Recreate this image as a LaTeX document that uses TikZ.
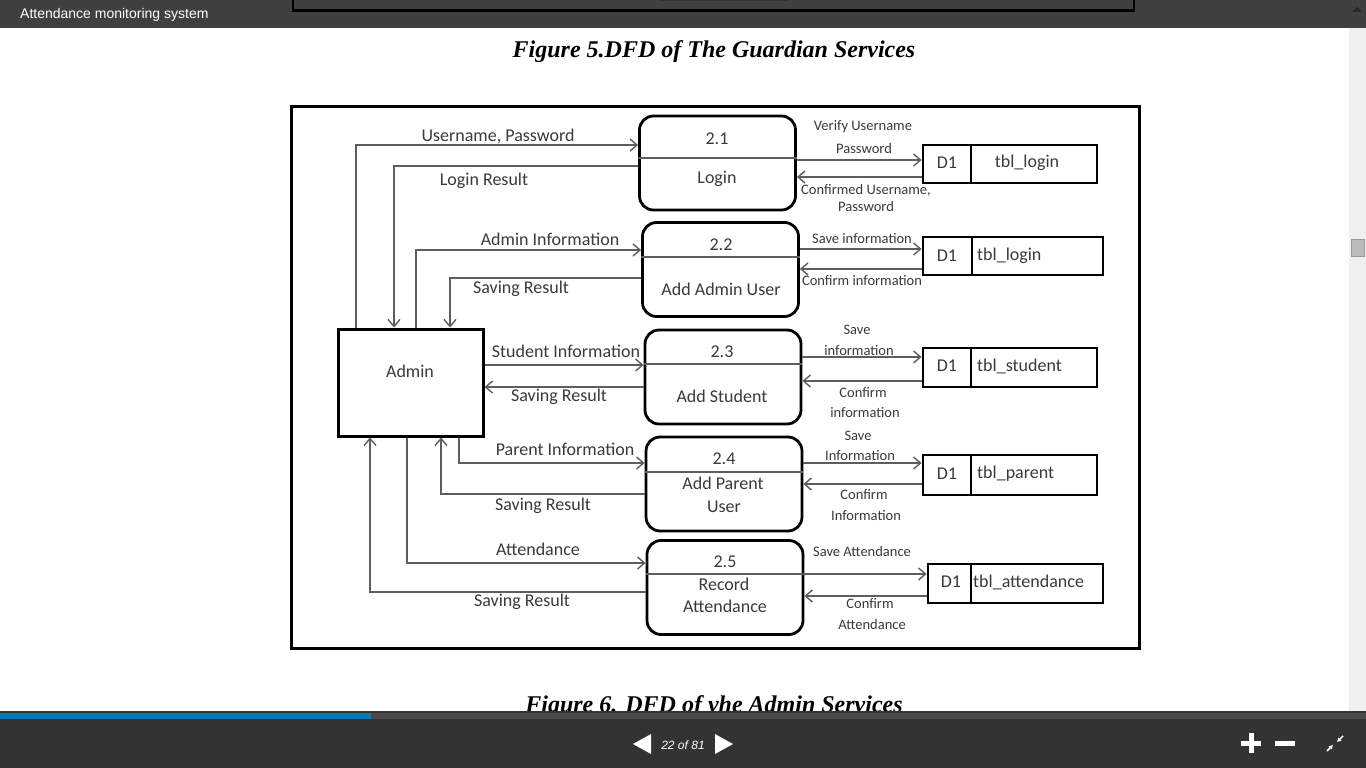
\documentclass[tikz,border=0pt]{standalone}
\usepackage{fontspec}
\setmainfont{Carlito}
\newfontfamily\titlefont{Liberation Serif}
\newfontfamily\uifont{Liberation Sans}
\usetikzlibrary{arrows.meta}
\definecolor{topbar}{HTML}{404040}
\definecolor{botbar}{HTML}{333333}
\definecolor{track}{HTML}{4B4B4B}
\definecolor{progress}{HTML}{0A78B8}
\definecolor{scrollbg}{HTML}{F0F0F0}
\definecolor{thumb}{HTML}{BBBBBB}
\definecolor{txt}{HTML}{3A3A3A}
\definecolor{flowgrey}{HTML}{5E5E5E}
\begin{document}
\begin{tikzpicture}[x=1pt,y=-1pt,
  lab/.style={font=\fontsize{18}{20}\selectfont, text=txt, inner sep=0pt},
  slab/.style={font=\fontsize{14.5}{16}\selectfont, text=txt, inner sep=0pt},
  proc/.style={draw=black, line width=2.8pt, rounded corners=14pt, minimum width=156pt, minimum height=94pt, inner sep=0pt},
  store/.style={draw=black, line width=2.8pt, minimum height=38pt, inner sep=0pt},
  ent/.style={draw=black, line width=3pt, minimum width=145pt, minimum height=107pt, inner sep=0pt},
  divider/.style={draw=flowgrey, line width=1.3pt},
  flow/.style={draw=flowgrey, line width=1.4pt, -{Straight Barb[length=7pt,width=12pt,line width=1.4pt]}},
  titletext/.style={font=\titlefont\bfseries\itshape\fontsize{24}{26}\selectfont, text=black, inner sep=0pt}
]
\useasboundingbox (0,0) rectangle (1366,768);
% page
\fill[white] (0,0) rectangle (1366,768);
% scrollbar
\fill[scrollbg] (1349,28) rectangle (1366,712);
\filldraw[fill=thumb, draw=black!40, line width=0.8pt] (1351,239) rectangle (1364,256);
% top bar
\fill[topbar] (0,0) rectangle (1366,28);
\draw[black, line width=2.5pt] (293,-10) rectangle (1134,10.5);
\draw[black!75, line width=0.8pt] (297,-5) rectangle (1131,7);
\draw[black!80, line width=1.5pt] (659,0.5) -- (789,0.5);
\fill[black!85] (1352,12) -- (1362,12) -- (1357,7) -- cycle;
\node[font=\uifont\fontsize{14}{16}\selectfont, text=white, anchor=base west, inner sep=0pt] (apptitle) at (20,19) {Attendance monitoring system};

% titles
\node[titletext, anchor=base] (fig5) at (714,58) {Figure 5.DFD of The Guardian Services};
\node[titletext, anchor=base] (fig6) at (714,712) {Figure 6. DFD of vhe Admin Services};

% outer frame
\draw[black, line width=3pt] (291,106) rectangle (1139,648);

% entity
\node[ent] (admin) at (410.5,382.5) {};
\node[lab] (adminlab) at (410,371) {Admin};

% processes
\node[proc] (p1) at (717.5,163) {};
\node[proc] (p2) at (720.5,269.5) {};
\node[proc] (p3) at (723,377) {};
\node[proc] (p4) at (724,484) {};
\node[proc] (p5) at (725,587.5) {};
\draw[divider] (p1.west |- 0,158) -- (p1.east |- 0,158);
\draw[divider] (p2.west |- 0,257) -- (p2.east |- 0,257);
\draw[divider] (p3.west |- 0,364) -- (p3.east |- 0,364);
\draw[divider] (p4.west |- 0,472) -- (p4.east |- 0,472);
\draw[divider] (p5.west |- 0,574) -- (p5.east |- 0,574);
\node[lab] (p1n) at (717,139) {2.1};
\node[lab] (p1t) at (717,179) {Login};
\node[lab] (p2n) at (721,245) {2.2};
\node[lab] (p2t) at (721,289) {Add Admin User};
\node[lab] (p3n) at (722,352) {2.3};
\node[lab] (p3t) at (722,396) {Add Student};
\node[lab] (p4n) at (724,459) {2.4};
\node[lab] (p4t) at (723,483) {Add Parent};
\node[lab] (p4u) at (724,507) {User};
\node[lab] (p5n) at (725,562) {2.5};
\node[lab] (p5t) at (724,584) {Record};
\node[lab] (p5u) at (725,606) {Attendance};

% data stores
\node[store, minimum width=174pt] (s1) at (1010,164) {};
\node[store, minimum width=180pt] (s2) at (1013,256) {};
\node[store, minimum width=174pt, minimum height=39pt] (s3) at (1010,367.5) {};
\node[store, minimum width=174pt, minimum height=40pt] (s4) at (1010,475) {};
\node[store, minimum width=175pt, minimum height=39pt] (s5) at (1015.5,583.5) {};
\draw[black, line width=1.3pt] (971,0 |- s1.north) -- (971,0 |- s1.south);
\draw[black, line width=1.3pt] (972,0 |- s2.north) -- (972,0 |- s2.south);
\draw[black, line width=1.3pt] (971,0 |- s3.north) -- (971,0 |- s3.south);
\draw[black, line width=1.3pt] (971,0 |- s4.north) -- (971,0 |- s4.south);
\draw[black, line width=1.3pt] (971,0 |- s5.north) -- (971,0 |- s5.south);
\node[lab] (s1d) at (947,163) {D1};
\node[lab] (s1t) at (1027,163) {tbl\_login};
\node[lab] (s2d) at (947,256) {D1};
\node[lab, anchor=west] (s2t) at (977,256) {tbl\_login};
\node[lab] (s3d) at (947,366) {D1};
\node[lab, anchor=west] (s3t) at (977,366) {tbl\_student};
\node[lab] (s4d) at (947,474) {D1};
\node[lab, anchor=west] (s4t) at (977,474) {tbl\_parent};
\node[lab] (s5d) at (951,582) {D1};
\node[lab, anchor=west] (s5t) at (973,582) {tbl\_attendance};

% admin <-> processes
\draw[flow] (356,0 |- admin.north) -- (356,145) -- (p1.west |- 0,145);
\draw[flow] (p1.west |- 0,166) -- (394,166) -- (394,0 |- admin.north);
\draw[flow] (416,0 |- admin.north) -- (416,250) -- (p2.west |- 0,250);
\draw[flow] (p2.west |- 0,278) -- (450,278) -- (450,0 |- admin.north);
\draw[flow] (admin.east |- 0,365) -- (p3.west |- 0,365);
\draw[flow] (p3.west |- 0,387) -- (admin.east |- 0,387);
\draw[flow] (459,0 |- admin.south) -- (459,463) -- (p4.west |- 0,463);
\draw[flow] (p4.west |- 0,494) -- (441,494) -- (441,0 |- admin.south);
\draw[flow] (407,0 |- admin.south) -- (407,563) -- (p5.west |- 0,563);
\draw[flow] (p5.west |- 0,592) -- (370,592) -- (370,0 |- admin.south);

\node[lab] (l1) at (498,136) {Username, Password};
\node[lab] (l2) at (484,181) {Login Result};
\node[lab] (l3) at (550,239) {Admin Information};
\node[lab] (l4) at (521,289) {Saving Result};
\node[lab] (l5) at (566,351) {Student Information};
\node[lab] (l6) at (559,397) {Saving Result};
\node[lab] (l7) at (565,449) {Parent Information};
\node[lab] (l8) at (543,506) {Saving Result};
\node[lab] (l9) at (538,549) {Attendance};
\node[lab] (l10) at (522,602) {Saving Result};

% processes <-> stores
\draw[flow] (p1.east |- 0,160) -- (s1.west |- 0,160);
\draw[flow] (s1.west |- 0,177) -- (p1.east |- 0,177);
\draw[flow] (p2.east |- 0,249) -- (s2.west |- 0,249);
\draw[flow] (s2.west |- 0,269) -- (p2.east |- 0,269);
\draw[flow] (p3.east |- 0,357) -- (s3.west |- 0,357);
\draw[flow] (s3.west |- 0,381) -- (p3.east |- 0,381);
\draw[flow] (p4.east |- 0,463) -- (s4.west |- 0,463);
\draw[flow] (s4.west |- 0,484) -- (p4.east |- 0,484);
\draw[flow] (p5.east |- 0,574) -- (s5.west |- 0,574);
\draw[flow] (s5.west |- 0,596) -- (p5.east |- 0,596);

\node[slab] (r1) at (863,127) {Verify Username};
\node[slab] (r2) at (864,149) {Password};
\node[slab] (r3) at (866,190) {Confirmed Username,};
\node[slab] (r4) at (866,207) {Password};
\node[slab] (r5) at (862,239) {Save information};
\node[slab] (r6) at (862,281) {Confirm information};
\node[slab] (r7) at (857,330) {Save};
\node[slab] (r8) at (859,351) {information};
\node[slab] (r9) at (863,393) {Confirm};
\node[slab] (r10) at (865,413) {information};
\node[slab] (r11) at (858,436) {Save};
\node[slab] (r12) at (860,456) {Information};
\node[slab] (r13) at (864,495) {Confirm};
\node[slab] (r14) at (866,516) {Information};
\node[slab] (r15) at (862,552) {Save Attendance};
\node[slab] (r16) at (870,604) {Confirm};
\node[slab] (r17) at (872,625) {Attendance};

% bottom bar
\fill[botbar] (0,711) rectangle (1366,768);
\fill[track] (0,713) rectangle (1366,719);
\fill[progress] (0,713) rectangle (371,719);
\fill[white] (651,734) -- (651,754) -- (633,744) -- cycle;
\fill[white] (715,734) -- (715,754) -- (733,744) -- cycle;
\node[font=\uifont\itshape\fontsize{12}{14}\selectfont, text=white, inner sep=0pt] (pagenum) at (683,745) {22 of 81};
\fill[white] (1241,741) rectangle (1261,746);
\fill[white] (1248.5,733) rectangle (1253.5,753);
\fill[white] (1275,741) rectangle (1295,746);
\draw[white, line width=1.6pt, -{Latex[length=4pt,width=5pt]}] (1343,736) -- (1337,742);
\draw[white, line width=1.6pt, -{Latex[length=4pt,width=5pt]}] (1327,751) -- (1333,745);
\end{tikzpicture}
\end{document}
